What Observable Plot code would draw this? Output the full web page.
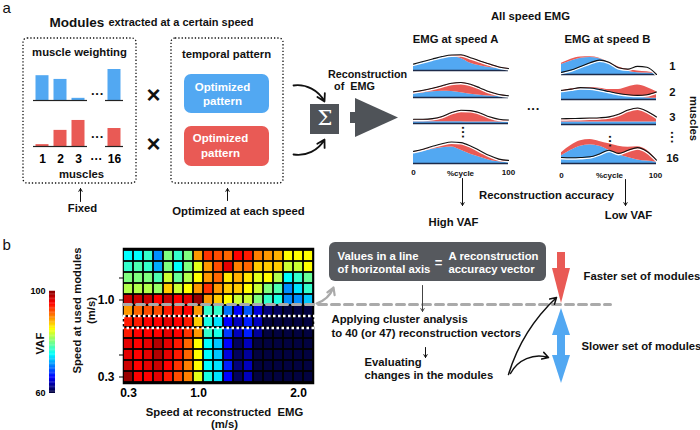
<!DOCTYPE html>
<html><head><meta charset="utf-8">
<script src="https://cdn.jsdelivr.net/npm/d3@7"></script>
<script src="https://cdn.jsdelivr.net/npm/@observablehq/plot@0.6"></script>
<style>
html,body{margin:0;padding:0;background:#fff;}
#root{position:relative;width:700px;height:430px;overflow:hidden;font-family:"Liberation Sans",Arial,sans-serif;}
#root svg{position:absolute;background:transparent;overflow:visible;}
</style></head><body><div id="root"></div>
<script>
const BLUE = "#52a8f2", RED = "#e95a55", DARK = "#4f5358";
const FONT = '"Liberation Sans", Arial, sans-serif';

// ---------- muscle weighting (panel a) ----------
const muscles = ["1", "2", "3", "…", "16"];
const blueWeights = [0.8, 0.68, 0.07, null, 1.0];
const redWeights = [0.06, 0.52, 0.84, null, 0.58];

// ---------- EMG profiles (0..100 % cycle) ----------
const cyclePct = [0, 10, 20, 30, 40, 50, 60, 70, 80, 90, 100];
const blueA = [
  [0.30, 0.50, 0.66, 0.80, 0.86, 0.75, 0.45, 0.30, 0.18, 0.12, 0.08],
  [0.25, 0.30, 0.38, 0.42, 0.40, 0.32, 0.22, 0.15, 0.10, 0.08, 0.06],
  [0.12, 0.12, 0.12, 0.12, 0.12, 0.12, 0.10, 0.10, 0.10, 0.10, 0.10],
  [0.45, 0.55, 0.65, 0.72, 0.75, 0.60, 0.42, 0.28, 0.15, 0.08, 0.05]
];
const redA = [
  [0.00, 0.00, 0.00, 0.00, 0.06, 0.18, 0.30, 0.30, 0.22, 0.10, 0.04],
  [0.10, 0.15, 0.22, 0.33, 0.52, 0.66, 0.63, 0.45, 0.25, 0.10, 0.06],
  [0.13, 0.15, 0.18, 0.33, 0.60, 0.78, 0.78, 0.60, 0.32, 0.15, 0.10],
  [0.05, 0.07, 0.07, 0.10, 0.15, 0.28, 0.30, 0.22, 0.15, 0.10, 0.07]
];
const emgA = [
  [0.40, 0.56, 0.72, 0.87, 0.97, 0.98, 0.80, 0.60, 0.40, 0.22, 0.12],
  [0.38, 0.48, 0.62, 0.78, 0.95, 1.00, 0.88, 0.64, 0.38, 0.20, 0.12],
  [0.30, 0.30, 0.35, 0.50, 0.78, 0.95, 0.92, 0.75, 0.48, 0.30, 0.25],
  [0.55, 0.65, 0.78, 0.90, 0.98, 0.95, 0.80, 0.58, 0.36, 0.20, 0.14]
];
const blueB = [
  [0.55, 0.75, 0.90, 0.95, 0.88, 0.62, 0.35, 0.18, 0.10, 0.08, 0.05],
  [0.45, 0.55, 0.65, 0.70, 0.65, 0.50, 0.35, 0.22, 0.15, 0.10, 0.08],
  [0.15, 0.15, 0.15, 0.15, 0.15, 0.15, 0.15, 0.15, 0.15, 0.15, 0.15],
  [0.32, 0.55, 0.72, 0.78, 0.72, 0.55, 0.38, 0.25, 0.15, 0.10, 0.05]
];
const redB = [
  [0.07, 0.10, 0.07, 0.03, 0.02, 0.04, 0.07, 0.10, 0.10, 0.07, 0.00],
  [0.10, 0.10, 0.07, 0.05, 0.05, 0.12, 0.27, 0.56, 0.75, 0.65, 0.40],
  [0.15, 0.15, 0.17, 0.18, 0.20, 0.25, 0.40, 0.65, 0.77, 0.60, 0.27],
  [0.13, 0.20, 0.23, 0.22, 0.20, 0.27, 0.34, 0.43, 0.55, 0.45, 0.10]
];
const emgB = [
  [0.12, 0.25, 0.45, 0.65, 0.80, 0.68, 0.38, 0.30, 0.45, 0.40, 0.00],
  [0.57, 0.65, 0.74, 0.72, 0.62, 0.50, 0.38, 0.30, 0.26, 0.30, 0.47],
  [0.34, 0.35, 0.36, 0.38, 0.40, 0.45, 0.60, 0.85, 0.97, 0.78, 0.44],
  [0.25, 0.24, 0.25, 0.28, 0.40, 0.55, 0.42, 0.55, 0.66, 0.50, 0.14]
];
const moduleNames = ["module 1", "module 2"];

// ---------- VAF heat map (panel b) ----------
const recSpeeds = [0.3, 0.4, 0.5, 0.6, 0.7, 0.8, 0.9, 1.0, 1.1, 1.2, 1.3, 1.4, 1.5, 1.6, 1.7, 1.8, 1.9, 2.0, 2.1];
const modSpeeds = [1.4, 1.3, 1.2, 1.1, 1.0, 0.9, 0.8, 0.7, 0.6, 0.5, 0.4, 0.3];
const vaf = [
  [75, 75, 77, 71, 80, 77, 80, 89, 93, 92, 91, 95, 94, 90, 89, 88, 85, 85, 85],
  [77, 78, 77, 72, 80, 75, 80, 84, 89, 92, 96, 90, 91, 87, 87, 87, 83, 83, 85],
  [80, 80, 80, 78, 83, 79, 82, 85, 89, 91, 86, 88, 86, 84, 85, 82, 75, 77, 79],
  [82, 82, 82, 81, 87, 83, 85, 89, 93, 89, 87, 87, 85, 83, 80, 78, 71, 74, 77],
  [97, 97, 97, 95, 97, 95, 96, 99, 89, 87, 85, 83, 83, 80, 77, 76, 71, 71, 73],
  [89, 91, 92, 92, 94, 94, 95, 89, 77, 77, 70, 66, 69, 65, 62, 61, 60, 60, 60],
  [94, 94, 95, 95, 96, 95, 94, 87, 76, 74, 66, 64, 67, 64, 60, 60, 60, 60, 60],
  [94, 95, 95, 95, 96, 95, 93, 89, 77, 76, 68, 64, 67, 63, 60, 60, 60, 60, 60],
  [96, 95, 96, 98, 96, 94, 91, 85, 75, 73, 66, 61, 64, 60, 60, 60, 60, 60, 60],
  [96, 95, 96, 98, 96, 94, 91, 85, 75, 73, 65, 61, 63, 60, 60, 60, 60, 60, 60],
  [97, 95, 96, 97, 95, 93, 90, 85, 75, 74, 67, 62, 64, 60, 60, 60, 60, 60, 60],
  [99, 95, 95, 96, 94, 92, 90, 84, 76, 74, 66, 61, 64, 60, 60, 60, 60, 60, 60]
];
const xTicks = [0.3, 1.0, 2.0];
const yTickMarks = [1.2, 1.0, 0.5, 0.3];
const yTickLabels = [1.0, 0.3];
const vafTicks = [60, 100];

// jet-like colormap
const jet = {
  type: "linear",
  domain: [60, 63, 66, 70, 75, 80, 85, 90, 95, 100],
  range: ["#02023f", "#00009a", "#0000ff", "#0072ff", "#00ffff", "#7fff7f", "#ffff00", "#ff7f00", "#ff0000", "#7f0000"],
  interpolate: "rgb"
};

const root = document.getElementById("root");
const baseStyle = {background: "transparent", fontFamily: FONT, overflow: "visible"};
function place(svg, left, top) {
  svg.style.left = left + "px";
  svg.style.top = top + "px";
  root.appendChild(svg);
}

// ---------- muscle weighting bars ----------
function musclePlot(weights, color, showAxis, mt, mb) {
  const rows = muscles.map((m, i) => ({m, w: weights[i]})).filter(d => d.w != null);
  return Plot.plot({
    width: 140, height: mt + 31 + mb,
    marginLeft: 31, marginRight: 15, marginTop: mt, marginBottom: mb,
    x: {type: "band", domain: muscles, padding: 0, axis: showAxis ? "bottom" : null,
        tickSize: 0, tickPadding: 8, tickFormat: d => d === "…" ? "···" : d, label: null},
    y: {domain: [0, 1], axis: null},
    style: {...baseStyle, fontSize: "12px", fontWeight: "bold"},
    marks: [
      Plot.barY(rows, {x: "m", y: "w", fill: color, insetLeft: 2.5, insetRight: 2.5}),
      Plot.tickY(rows, {x: "m", y: 0, stroke: "#222", strokeWidth: 1.2})
    ]
  });
}
place(musclePlot(blueWeights, BLUE, false, 9, 1), 0, 60);
place(musclePlot(redWeights, RED, true, 5, 22), 0, 110);

// ---------- EMG panels ----------
function emgPlot(blue, red, emg, amp) {
  const rows = [];
  cyclePct.forEach((p, i) => {
    rows.push({p, m: moduleNames[0], v: blue[i]});
    rows.push({p, m: moduleNames[1], v: red[i]});
  });
  const line = cyclePct.map((p, i) => ({p, v: emg[i]}));
  return Plot.plot({
    width: 97, height: amp + 3,
    marginLeft: 1, marginRight: 1, marginTop: 2, marginBottom: 1,
    x: {domain: [0, 100], axis: null},
    y: {domain: [0, 1], axis: null},
    color: {type: "ordinal", domain: moduleNames, range: [BLUE, RED]},
    style: baseStyle,
    marks: [
      Plot.areaY(rows, {x: "p", y: "v", z: "m", fill: "m", order: moduleNames, curve: "monotone-x"}),
      Plot.ruleY([0], {stroke: "#1d2b4a", strokeWidth: 1.3}),
      Plot.lineY(line, {x: "p", y: "v", stroke: "white", strokeWidth: 1.4, dy: 1.3, curve: "monotone-x"}),
      Plot.lineY(line, {x: "p", y: "v", stroke: "#111", strokeWidth: 1.1, curve: "monotone-x"})
    ]
  });
}
const baseA = [70, 97, 123, 163], ampA = [16, 15, 14, 22];
const baseB = [74, 99, 124, 163], ampB = [18, 16, 17, 24];
for (let i = 0; i < 4; i++) {
  place(emgPlot(blueA[i], redA[i], emgA[i], ampA[i]), 412, baseA[i] - ampA[i] - 2);
  place(emgPlot(blueB[i], redB[i], emgB[i], ampB[i]), 560, baseB[i] - ampB[i] - 2);
}

// ---------- heat map ----------
const cells = modSpeeds.flatMap((ys, i) => recSpeeds.map((xs, j) => ({xs, ys, v: vaf[i][j]})));
place(Plot.plot({
  width: 330, height: 210,
  marginLeft: 123, marginRight: 17, marginTop: 48, marginBottom: 27,
  x: {type: "band", domain: recSpeeds, padding: 0, ticks: xTicks, tickFormat: d => d.toFixed(1),
      tickSize: 0, tickPadding: 5, label: null},
  y: {type: "band", domain: modSpeeds, padding: 0, ticks: yTickMarks,
      tickFormat: d => yTickLabels.includes(d) ? d.toFixed(1) : "", tickSize: 4, tickPadding: 5, label: null},
  color: jet,
  style: {...baseStyle, fontSize: "12px", fontWeight: "bold"},
  marks: [
    Plot.frame({fill: "black", stroke: "black", strokeWidth: 1.5}),
    Plot.cell(cells, {x: "xs", y: "ys", fill: "v", inset: 0.9})
  ]
}), 0, 200);

// ---------- colour bar ----------
const barStops = d3.range(60, 100, 0.5);
place(Plot.plot({
  width: 60, height: 110,
  marginLeft: 49, marginRight: 5, marginTop: 4, marginBottom: 4,
  x: {domain: [0, 1], axis: null},
  y: {domain: [60, 100], ticks: vafTicks, tickSize: 0, tickPadding: 4, label: null},
  color: jet,
  style: {...baseStyle, fontSize: "9px", fontWeight: "bold"},
  marks: [Plot.rect(barStops, {x1: 0, x2: 1, y1: d => d, y2: d => d + 0.6, fill: d => d})]
}), 0, 287);

// ---------- annotation layer (layout) ----------
const S = 11.3;
function txt(items, o = {}) {
  return Plot.text(items, {
    x: d => d[0], y: d => d[1], text: d => d[2],
    fontSize: o.size ?? S, fontWeight: o.weight ?? "bold", textAnchor: o.anchor ?? "middle",
    fill: o.fill ?? "#111", rotate: o.rotate ?? 0, fontFamily: o.family ?? FONT, lineAnchor: "middle"
  });
}
const R = (x1, y1, x2, y2) => ({x1, y1, x2, y2});
function rects(items, o) { return Plot.rect(items, {x1: "x1", y1: "y1", x2: "x2", y2: "y2", ...o}); }
function tri(points, fill) { return Plot.area(points, {x1: "xa", y1: "ya", x2: "xb", y2: "yb", fill, curve: "linear"}); }
function arrows(items, o) {
  return Plot.arrow(items, {x1: d => d[0], y1: d => d[1], x2: d => d[2], y2: d => d[3],
    stroke: "#111", strokeWidth: 1, headLength: 5, ...o});
}

const overlay = Plot.plot({
  width: 700, height: 430, margin: 0,
  x: {domain: [0, 700], range: [0, 700], axis: null},
  y: {domain: [0, 430], range: [0, 430], axis: null},
  style: baseStyle,
  marks: [
    // dotted module boxes
    rects([R(23, 38, 136, 183), R(171, 38, 283, 183)],
      {fill: "none", stroke: "#111", strokeWidth: 1.3, strokeDasharray: "1.3,2", rx: 4}),
    rects([R(184, 74, 269, 113)], {fill: BLUE, rx: 7}),
    rects([R(184, 126, 269, 166)], {fill: RED, rx: 7}),
    // sigma box and big arrow
    rects([R(310, 104, 339, 134)], {fill: DARK}),
    rects([R(350, 112, 356, 123)], {fill: DARK}),
    tri([{xa: 355, ya: 98, xb: 355, yb: 137}, {xa: 398, ya: 117.5, xb: 398, yb: 117.5}], DARK),
    // panel b box
    rects([R(329, 242, 546, 281)], {fill: "#56595e", rx: 6}),
    // grey dashed line and white dotted row
    Plot.line([[123, 304], [610, 304]], {stroke: "#aaaaaa", strokeWidth: 3, strokeDasharray: "8,5"}),
    rects([R(123, 316, 315, 328)], {fill: "none", stroke: "white", strokeWidth: 2.5, strokeDasharray: "2.5,2.5"}),
    // red / blue arrows
    rects([R(557, 252, 565, 269)], {fill: RED}),
    tri([{xa: 552, ya: 268, xb: 570, yb: 268}, {xa: 561, ya: 303, xb: 561, yb: 303}], RED),
    tri([{xa: 561, ya: 308, xb: 561, yb: 308}, {xa: 552, ya: 335, xb: 570, yb: 335}], BLUE),
    rects([R(557, 334, 565, 356)], {fill: BLUE}),
    tri([{xa: 552, ya: 355, xb: 570, yb: 355}, {xa: 561, ya: 383, xb: 561, yb: 383}], BLUE),
    // arrows
    arrows([[80, 201, 80, 188], [227, 200, 227, 188], [462, 178, 462, 205], [625, 179, 625, 205],
            [425, 347, 425, 357]], {}),
    arrows([[422, 285, 422, 311]], {stroke: "#444"}),
    arrows([[293, 85, 324, 101]], {bend: 35, strokeWidth: 1.8, headLength: 7}),
    arrows([[293, 154, 324, 139]], {bend: -35, strokeWidth: 1.8, headLength: 7}),
    arrows([[508, 374, 556, 297]], {bend: 15, strokeWidth: 1.5, headLength: 7}),
    arrows([[510, 373, 548, 357]], {bend: 40, strokeWidth: 1.5, headLength: 7}),
    arrows([[316, 303, 333, 287]], {bend: -25, stroke: "#aaaaaa", strokeWidth: 2.2, headLength: 6}),
    // texts
    txt([[2, 8, "a"], [2, 245, "b"]], {size: 15, weight: "normal", anchor: "start"}),
    txt([[49, 22, "Modules"]], {size: 13.5, anchor: "start"}),
    txt([[108, 22, "extracted at a certain speed"]], {size: 11, anchor: "start"}),
    txt([[367, 74.5, "Reconstruction"], [354, 86.5, "of\u00a0 EMG"]], {size: 10.8}),
    txt([[79, 52, "muscle weighting"], [226, 54, "temporal pattern"], [81, 174, "muscles"],
         [82, 208, "Fixed"], [238, 211, "Optimized at each speed"],
         [530, 16, "All speed EMG"], [455, 39, "EMG at speed A"],
         [607, 39, "EMG at speed B"], [546, 195, "Reconstruction accuracy"], [453, 222, "High VAF"],
         [628, 215, "Low VAF"], [672, 66, "1"], [672, 92, "2"], [672, 117, "3"], [672, 158, "16"],
         [224, 412, "Speed at reconstructed\u00a0 EMG"], [224, 424, "(m/s)"]]),
    txt([[77, 310, "Speed at used modules"], [91, 310, "(m/s)"], [40, 343, "VAF"]], {rotate: -90}),
    txt([[693, 118, "muscles"]], {rotate: 90}),
    txt([[331, 319, "Applying cluster analysis"], [331, 333, "to 40 (or 47) reconstruction vectors"],
         [364, 362, "Evaluating"], [364, 375, "changes in the modules"],
         [583, 276, "Faster set of modules"], [581, 346, "Slower set of modules"]], {anchor: "start"}),
    txt([[337, 256, "Values in a line"], [337, 269, "of horizontal axis"],
         [448, 256, "A reconstruction"], [448, 269, "accuracy vector"]], {anchor: "start", fill: "white"}),
    txt([[438, 262, "="]], {size: 13, fill: "white"}),
    txt([[222, 87, "Optimized"], [222, 101, "pattern"], [220, 138, "Optimized"], [220, 153, "pattern"]],
        {size: 11.5, fill: "white"}),
    txt([[324.5, 118, "Σ"]], {size: 21, weight: "normal", fill: "white", family: '"DejaVu Serif", serif'}),
    txt([[153, 95, "×"], [153, 144, "×"]], {size: 24}),
    txt([[413, 172, "0"], [460, 173, "%cycle"], [508, 172, "100"], [561, 175, "0"], [609, 175, "%cycle"], [655, 175, "100"]],
        {size: 8}),
    txt([[97, 93, "···"], [97, 136, "···"], [533, 108, "···"]], {size: 13}),
    txt([[463, 132, "···"], [610, 141, "···"], [672, 137, "···"]], {size: 13, rotate: 90})
  ]
});
overlay.style.pointerEvents = "none";
place(overlay, 0, 0);
</script></body></html>
